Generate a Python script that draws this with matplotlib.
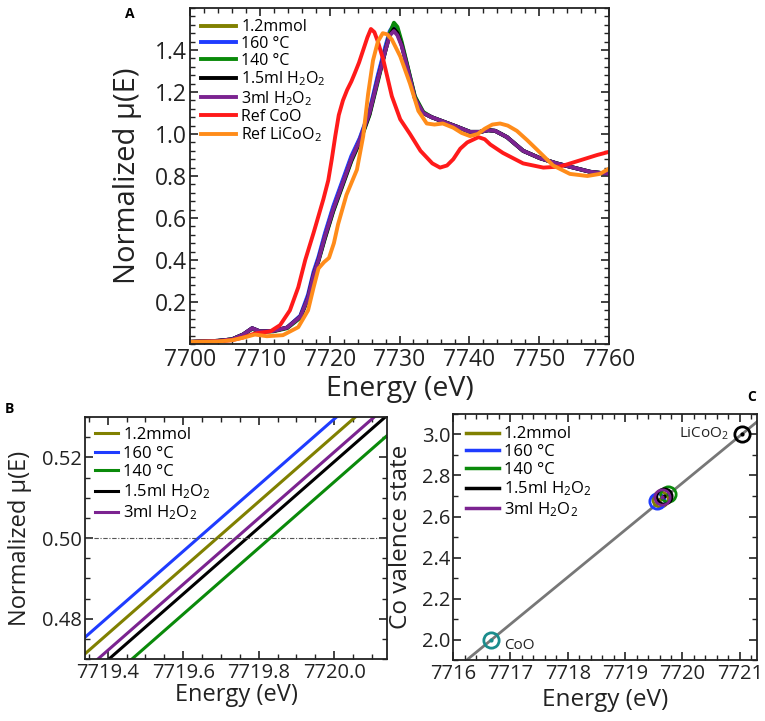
import matplotlib
matplotlib.use("Agg")
import matplotlib.pyplot as plt
from matplotlib.ticker import MultipleLocator, AutoMinorLocator, FormatStrFormatter

plt.rcParams['font.family'] = ['Open Sans', 'DejaVu Sans']
plt.rcParams['mathtext.fontset'] = 'custom'
plt.rcParams['mathtext.rm'] = 'Open Sans'
plt.rcParams['mathtext.it'] = 'Open Sans:italic'

# ---- panel A: normalized XANES spectra ----
labels = ["1.2mmol", "160 °C", "140 °C", "1.5ml H$_2$O$_2$", "3ml H$_2$O$_2$"]
colors = ["#808000", "#1f3cff", "#0a8a0a", "#000000", "#7b2390"]

e_samp = [7700, 7704, 7706, 7707.6, 7708.9, 7710, 7711.9, 7713.9, 7715.8, 7716.9,
          7717.7, 7718.4, 7719.3, 7720.5, 7721.8, 7723.1, 7724.3, 7725.7, 7726.9, 7728.0,
          7728.6, 7729.2, 7729.7, 7730.3, 7731.1, 7732.2, 7733.4, 7734.6, 7735.8, 7738.2,
          7740.1, 7741.5, 7742.7, 7743.7, 7745.4, 7747.7, 7750.1, 7752.5, 7754.9, 7757.3, 7760]
mu_olive = [0.010, 0.015, 0.022, 0.045, 0.075, 0.060, 0.062, 0.078, 0.13, 0.225,
            0.335, 0.405, 0.515, 0.645, 0.765, 0.885, 0.975, 1.105, 1.27, 1.41,
            1.48, 1.51, 1.49, 1.43, 1.325, 1.175, 1.10, 1.08, 1.065, 1.035,
            1.01, 1.01, 1.018, 1.015, 0.985, 0.92, 0.885, 0.86, 0.84, 0.82, 0.81]
mu_blue = [0.010, 0.015, 0.022, 0.045, 0.075, 0.060, 0.062, 0.078, 0.135, 0.235,
           0.345, 0.415, 0.525, 0.655, 0.775, 0.895, 0.98, 1.11, 1.28, 1.42,
           1.49, 1.52, 1.50, 1.43, 1.325, 1.175, 1.10, 1.08, 1.065, 1.035,
           1.01, 1.01, 1.018, 1.015, 0.985, 0.92, 0.885, 0.86, 0.84, 0.82, 0.81]
mu_green = [0.010, 0.015, 0.022, 0.045, 0.072, 0.058, 0.060, 0.075, 0.125, 0.215,
            0.325, 0.395, 0.50, 0.63, 0.75, 0.87, 0.96, 1.09, 1.25, 1.40,
            1.48, 1.53, 1.51, 1.44, 1.33, 1.18, 1.105, 1.08, 1.065, 1.035,
            1.01, 1.01, 1.018, 1.015, 0.985, 0.92, 0.885, 0.86, 0.84, 0.82, 0.81]
mu_black = [0.010, 0.015, 0.022, 0.045, 0.075, 0.060, 0.062, 0.078, 0.13, 0.22,
            0.33, 0.40, 0.505, 0.635, 0.755, 0.875, 0.965, 1.095, 1.26, 1.40,
            1.47, 1.50, 1.48, 1.425, 1.32, 1.17, 1.10, 1.08, 1.065, 1.035,
            1.01, 1.01, 1.018, 1.015, 0.985, 0.92, 0.885, 0.86, 0.84, 0.82, 0.81]
mu_purple = [0.010, 0.015, 0.022, 0.045, 0.075, 0.060, 0.062, 0.078, 0.13, 0.22,
             0.33, 0.40, 0.51, 0.64, 0.76, 0.88, 0.97, 1.10, 1.26, 1.40,
             1.47, 1.49, 1.47, 1.42, 1.32, 1.17, 1.10, 1.08, 1.065, 1.035,
             1.01, 1.01, 1.018, 1.015, 0.985, 0.92, 0.885, 0.86, 0.84, 0.82, 0.81]
mu_samples = [mu_olive, mu_blue, mu_green, mu_black, mu_purple]

e_coo = [7700, 7704, 7706, 7707.5, 7709.3, 7711.5, 7712.9, 7714.3, 7715.5, 7716.5,
         7717.7, 7719.1, 7719.8, 7720.3, 7720.8, 7721.3, 7721.9, 7722.5, 7723.1, 7723.6,
         7724.2, 7724.8, 7725.4, 7725.9, 7726.4, 7726.9, 7727.7, 7728.9, 7730.1, 7731.5,
         7733.0, 7734.7, 7735.8, 7736.8, 7737.7, 7738.7, 7739.7, 7741.3, 7742.2, 7743.0,
         7744.8, 7747.7, 7750.6, 7753.0, 7755.9, 7758.3, 7760]
mu_coo = [0.010, 0.012, 0.018, 0.030, 0.050, 0.060, 0.090, 0.16, 0.27, 0.40,
          0.53, 0.69, 0.78, 0.88, 0.99, 1.09, 1.16, 1.21, 1.25, 1.29,
          1.34, 1.40, 1.46, 1.50, 1.485, 1.44, 1.35, 1.18, 1.07, 1.00,
          0.92, 0.86, 0.84, 0.85, 0.88, 0.93, 0.96, 0.985, 0.975, 0.95,
          0.91, 0.86, 0.84, 0.845, 0.875, 0.90, 0.915]

e_lco = [7700, 7704, 7706, 7707.6, 7709.3, 7711, 7713.3, 7715.5, 7716.9, 7717.7,
         7718.4, 7719.2, 7719.9, 7720.6, 7721.2, 7722.4, 7723.9, 7724.8, 7725.5, 7726.2,
         7726.9, 7727.6, 7728.2, 7728.9, 7730.1, 7731.5, 7732.7, 7733.9, 7735.0, 7736.2,
         7737.7, 7738.9, 7740.1, 7741.2, 7742.2, 7743.3, 7744.4, 7745.5, 7746.8, 7748.3,
         7749.7, 7752.0, 7754.4, 7756.9, 7758.7, 7760]
mu_lco = [0.010, 0.012, 0.018, 0.030, 0.045, 0.037, 0.042, 0.08, 0.16, 0.27,
          0.36, 0.39, 0.41, 0.48, 0.57, 0.71, 0.83, 0.99, 1.19, 1.35,
          1.44, 1.48, 1.475, 1.45, 1.37, 1.24, 1.11, 1.05, 1.045, 1.05,
          1.03, 1.005, 0.99, 1.00, 1.025, 1.045, 1.05, 1.04, 1.015, 0.97,
          0.925, 0.85, 0.81, 0.80, 0.81, 0.835]

# ---- panel B: zoom on the edge at mu = 0.5 ----
e_zoom = [7719.2, 7720.3]
mu_zoom = [[0.4598, 0.5500],   # 1.2mmol
           [0.4639, 0.5541],   # 160 C
           [0.4483, 0.5385],   # 140 C
           [0.4533, 0.5435],   # 1.5ml
           [0.4557, 0.5459]]   # 3ml

# ---- panel C: valence state vs edge position ----
e_val = [7719.61, 7719.56, 7719.75, 7719.67, 7719.64]
v_val = [2.687, 2.675, 2.712, 2.700, 2.693]
ref_names = ["CoO", "LiCoO$_2$"]
ref_e = [7716.67, 7721.03]
ref_v = [2.0, 3.0]
ref_colors = ["#1a8c8c", "#000000"]
fit_e = [7716.0, 7721.4]
fit_v = [1.845, 3.085]

fig = plt.figure(figsize=(7.65, 7.21), dpi=100)
axA = fig.add_axes([0.2484, 0.5229, 0.5477, 0.466])
axB = fig.add_axes([0.1111, 0.0860, 0.3948, 0.3356])
axC = fig.add_axes([0.5922, 0.0846, 0.3974, 0.3412])


def style(ax, size):
    for s in ax.spines.values():
        s.set_linewidth(1.3)
        s.set_color("#222222")
    ax.tick_params(which="both", direction="in", top=True, right=True,
                   labelsize=size, colors="#222222")
    ax.tick_params(axis="x", pad=3)
    ax.tick_params(axis="y", pad=2)
    ax.tick_params(which="major", length=6, width=1.2)
    ax.tick_params(which="minor", length=3.5, width=1.0)


for mu, c, lab in zip(mu_samples, colors, labels):
    axA.plot(e_samp, mu, color=c, lw=2.8, label=lab, solid_joinstyle="round")
axA.plot(e_coo, mu_coo, color="#ff1a1a", lw=2.8, label="Ref CoO", solid_joinstyle="round")
axA.plot(e_lco, mu_lco, color="#ff8c1a", lw=2.8, label="Ref LiCoO$_2$", solid_joinstyle="round")
axA.set_xlim(7700, 7760)
axA.set_ylim(0, 1.6)
axA.set_yticks([0.2, 0.4, 0.6, 0.8, 1.0, 1.2, 1.4])
axA.xaxis.set_major_locator(MultipleLocator(10))
axA.xaxis.set_minor_locator(AutoMinorLocator(5))
axA.yaxis.set_minor_locator(AutoMinorLocator(5))
style(axA, 16.5)
axA.set_xlabel("Energy (eV)", fontsize=20.5, color="#222222")
axA.set_ylabel("Normalized μ(E)", fontsize=21, color="#222222")
axA.yaxis.set_label_coords(-0.115, 0.5)
axA.xaxis.set_label_coords(0.5, -0.092)
axA.legend(loc="upper left", frameon=False, fontsize=11.5, handlelength=2.2,
           handletextpad=0.3, labelspacing=0.05, borderaxespad=0.3)

for mu, c, lab in zip(mu_zoom, colors, labels):
    axB.plot(e_zoom, mu, color=c, lw=2.2, label=lab)
axB.axhline(0.5, color="#555555", lw=0.8, ls=(0, (4, 1.5, 1, 1.5)))
axB.set_xlim(7719.34, 7720.14)
axB.set_ylim(0.47, 0.53)
axB.set_xticks([7719.4, 7719.6, 7719.8, 7720.0])
axB.set_yticks([0.48, 0.50, 0.52])
axB.xaxis.set_major_formatter(FormatStrFormatter("%.1f"))
axB.yaxis.set_major_formatter(FormatStrFormatter("%.2f"))
axB.xaxis.set_minor_locator(AutoMinorLocator(4))
axB.yaxis.set_minor_locator(AutoMinorLocator(4))
style(axB, 14.5)
axB.set_xlabel("Energy (eV)", fontsize=17, color="#222222")
axB.set_ylabel("Normalized μ(E)", fontsize=17, color="#222222")
axB.yaxis.set_label_coords(-0.175, 0.5)
axB.xaxis.set_label_coords(0.5, -0.1)
axB.legend(loc="upper left", frameon=False, fontsize=12, handlelength=1.4,
           handletextpad=0.3, labelspacing=0.15, borderaxespad=0.2)

axC.plot(fit_e, fit_v, color="#777777", lw=2)
for e, v, c, lab in zip(e_val, v_val, colors, labels):
    axC.plot([e], [v], marker="o", ms=11, mfc="none", mec=c, mew=2, ls="none")
    axC.plot([e], [v], marker="o", ms=2, color=c, ls="none")
    axC.plot([], [], color=c, lw=2.5, label=lab)
for name, e, v, c in zip(ref_names, ref_e, ref_v, ref_colors):
    axC.plot([e], [v], marker="o", ms=11, mfc="none", mec=c, mew=2, ls="none")
    axC.plot([e], [v], marker="o", ms=2, color=c, ls="none")
axC.annotate(ref_names[0], (ref_e[0], ref_v[0]), xytext=(9, -7), textcoords="offset points",
             fontsize=11, color="#222222")
axC.annotate(ref_names[1], (ref_e[1], ref_v[1]), xytext=(-9, -2), textcoords="offset points",
             fontsize=11, color="#222222", ha="right")
axC.set_xlim(7716.0, 7721.3)
axC.set_ylim(1.9, 3.1)
axC.set_xticks([7716, 7717, 7718, 7719, 7720, 7721])
axC.set_yticks([2.0, 2.2, 2.4, 2.6, 2.8, 3.0])
axC.xaxis.set_minor_locator(AutoMinorLocator(5))
axC.yaxis.set_minor_locator(AutoMinorLocator(2))
style(axC, 14.5)
axC.set_xlabel("Energy (eV)", fontsize=17.5, color="#222222")
axC.set_ylabel("Co valence state", fontsize=17.5, color="#222222")
axC.yaxis.set_label_coords(-0.132, 0.5)
axC.xaxis.set_label_coords(0.5, -0.115)
axC.legend(loc="upper left", frameon=False, fontsize=12, handlelength=2.0,
           handletextpad=0.3, labelspacing=0.1, borderaxespad=0.35)

fig.text(130 / 765, 1 - 14 / 721, "A", fontsize=10, fontweight="bold", ha="center", va="center")
fig.text(9 / 765, 1 - 409 / 721, "B", fontsize=10, fontweight="bold", ha="center", va="center")
fig.text(752 / 765, 1 - 397 / 721, "C", fontsize=10, fontweight="bold", ha="center", va="center")

fig.savefig("out.png", dpi=100)
